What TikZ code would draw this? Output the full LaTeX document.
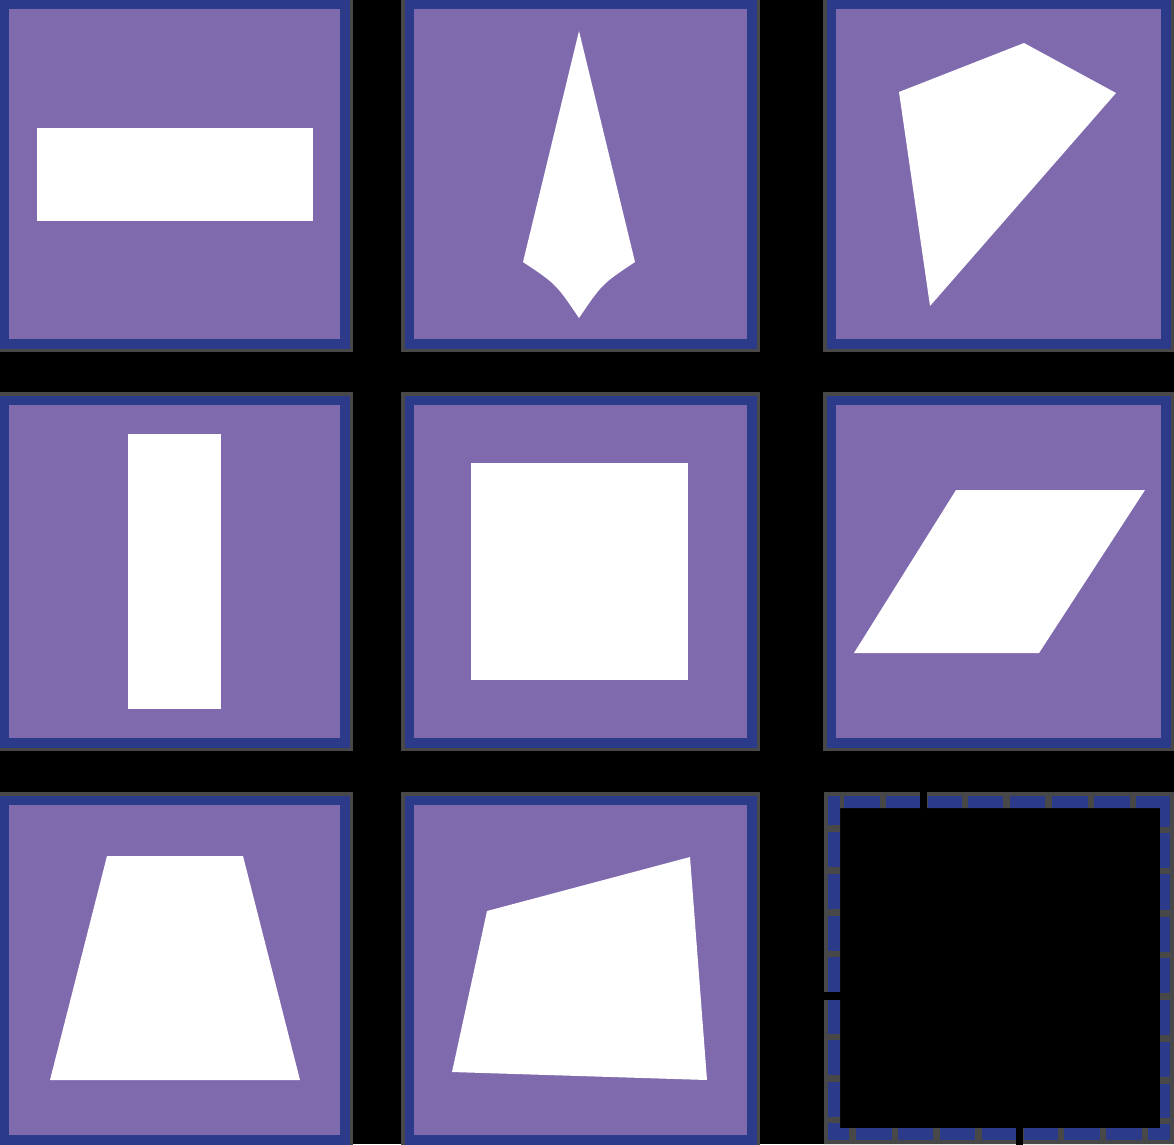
\documentclass[tikz,border=0pt]{standalone}
\definecolor{boxpurple}{RGB}{127,106,174}
\definecolor{boxblue}{RGB}{44,58,138}
\definecolor{edgegray}{RGB}{72,72,72}
\tikzset{
  whiteshape/.style={fill=white},
  dashpiece/.style={fill=boxblue},
}
\newcommand\drawtile[4]{%
  \fill[edgegray] (#1,#2) rectangle (#3,#4);
  \fill[boxblue] (#1+3.5,#2+3.5) rectangle (#3-3.5,#4-3.5);
  \fill[boxpurple] (#1+13,#2+13) rectangle (#3-13,#4-13);}
\begin{document}
\begin{tikzpicture}[x=1pt,y=-1pt]
\useasboundingbox (0,0) rectangle (1174,1144);
\clip (0,0) rectangle (1174,1144);
\fill[black] (0,0) rectangle (1174,1144);
% tiles
\drawtile{-4}{-4}{353}{352}
\drawtile{401}{-4}{760}{352}
\drawtile{823}{-4}{1174}{352}
\drawtile{-4}{392}{353}{751}
\drawtile{401}{392}{760}{751}
\drawtile{823}{392}{1174}{751}
\drawtile{-4}{792}{353}{1148}
\drawtile{401}{792}{760}{1148}
% shapes
\fill[whiteshape] (37,128) rectangle (313,221);
\fill[whiteshape] (579,31) -- (635,262) .. controls (602,284) .. (579,318)
   .. controls (556,284) .. (523,262) -- cycle;
\fill[whiteshape] (899,92) -- (1024,43) -- (1116,93) -- (930,306) -- cycle;
\fill[whiteshape] (128,434) rectangle (221,709);
\fill[whiteshape] (471,463) rectangle (688,680);
\fill[whiteshape] (956,490) -- (1145,490) -- (1039,653) -- (854,653) -- cycle;
\fill[whiteshape] (107,856) -- (243,856) -- (300,1080) -- (50,1080) -- cycle;
\fill[whiteshape] (487,911) -- (690,857) -- (707,1080) -- (452,1072) -- cycle;
% dashed empty tile
\fill[edgegray,even odd rule] (824,792) rectangle (1174,1144) (840,808) rectangle (1160,1128);
% top side
\foreach \a/\b in {844/880,886/920,928/962,968/1003,1010/1045,1052/1088,1094/1130,1136/1170}
  \fill[dashpiece] (\a,796) rectangle (\b,808);
% left side
\foreach \a/\b in {796/825,832/867,874/909,916/951,957/992,1000/1034,1040/1075,1082/1117,1123/1140}
  \fill[dashpiece] (828,\a) rectangle (840,\b);
% bottom side
\foreach \a/\b in {828/849,856/892,898/933,940/975,982/1016,1024/1058,1064/1100,1106/1142,1148/1170}
  \fill[dashpiece] (\a,1128) rectangle (\b,1140);
% right side
\foreach \a/\b in {796/827,833/868,874/910,917/952,958/993,1000/1035,1042/1077,1084/1118,1124/1140}
  \fill[dashpiece] (1160,\a) rectangle (1170,\b);
% breaks
\fill[black] (920,790) rectangle (927,809);
\fill[black] (822,992) rectangle (841,1000);
\fill[black] (1016,1127) rectangle (1023,1146);
\end{tikzpicture}
\end{document}
